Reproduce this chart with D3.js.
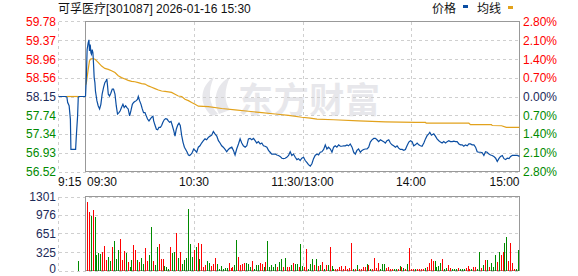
<!DOCTYPE html>
<html>
<head>
<meta charset="utf-8">
<script src="https://cdn.jsdelivr.net/npm/d3@7"></script>
<style>
  body { margin: 0; background: #fff; }
  svg { display: block; font-family: "Liberation Sans", Arial, "Noto Sans CJK SC", sans-serif; }
</style>
</head>
<body>
<div id="chart"></div>
<script>
// ---------- data ----------
const title = "可孚医疗[301087] 2026-01-16 15:30"
const prevClose = 58.15

const priceTicks = [59.78, 59.37, 58.96, 58.56, 58.15, 57.74, 57.34, 56.93, 56.52]
const pctLabels = ["2.80%", "2.10%", "1.40%", "0.70%", "0.00%", "0.70%", "1.40%", "2.10%", "2.80%"]
const volTicks = [1301, 976, 651, 325, 0]
const timeTicks = [0, 60, 120, 180, 240] // minutes after 09:30 (lunch folded)
const timeLabels = ["09:30", "10:30", "11:30/13:00", "14:00", "15:00"]

// call auction 9:15-9:30, [minute after 9:15, price]
const prePrice = [[0,58.15],[4.6,58.15],[5.1,58.02],[5.9,57.95],[6.6,57.66],[6.9,57.00],[9.5,57.00],[9.9,57.29],[10.6,57.72],[11,58.15],[15,58.15]]
const preAvg = [[4.6,58.15],[11,58.15]]
const preVolT = [11]
const preVol = [170]

// [minute after 9:30, price]
const amPrice = [[0,58.15],[0.5,58.60],[0.9,59.17],[1.5,59.32],[1.9,59.38],[2.2,59.14],[2.6,59.28],[3.0,59.10],[3.3,59.07],[3.7,59.17],
  [4.1,59.10],[4.4,58.89],[4.8,58.56],[5.2,58.45],[5.5,58.27],[6.3,58.06],[7.0,57.95],[7.8,57.88],[8.5,57.98],[9.2,58.20],
  [10.0,58.35],[10.7,58.45],[11.4,58.49],[11.8,58.53],[12.2,58.38],[12.6,58.20],[13.3,58.16],[14.0,58.22],[14.8,58.31],[15.5,58.31],
  [16.3,58.20],[17.0,57.95],[17.7,57.77],[18.5,57.80],[19.2,57.84],[19.9,57.91],[20.7,57.98],[21.4,57.91],[22.2,57.95],[22.9,57.91],
  [23.6,57.88],[24.4,57.73],[25.1,57.84],[25.9,57.98],[26.6,58.02],[27.3,58.04],[28.1,58.06],[28.8,58.09],[29.2,58.15],[29.9,58.06],
  [30.7,57.98],[31.4,57.88],[32.1,57.80],[32.9,57.80],[33.6,57.73],[34.3,57.66],[35.1,57.62],[35.8,57.66],[36.6,57.70],[37.3,57.72],
  [37.7,57.62],[38.4,57.53],[39.2,57.44],[39.9,57.43],[40.6,57.48],[41.4,57.48],[42.1,57.52],[42.8,57.59],[43.6,57.65],[44.3,57.67],
  [45.1,57.66],[45.8,57.62],[46.5,57.59],[47.3,57.61],[48.0,57.52],[48.8,57.41],[49.5,57.29],[50.2,57.44],[51.0,57.53],[51.7,57.57],
  [52.4,57.52],[53.2,57.30],[53.9,57.16],[54.7,57.05],[55.4,57.00],[56.1,56.95],[56.9,56.88],[57.6,56.87],[58.4,56.90],[59.1,56.94],
  [59.8,57.01],[60.6,56.98],[61.5,56.94],[62.4,57.05],[63.3,57.08],[64.2,57.14],[65.2,57.19],[66.1,57.23],[67.0,57.21],[67.9,57.26],
  [68.9,57.29],[69.8,57.31],[70.7,57.39],[71.6,57.34],[72.6,57.29],[73.5,57.19],[74.4,57.14],[75.3,57.08],[76.2,57.05],[77.2,57.00],
  [78.1,56.95],[79.0,57.00],[79.9,57.03],[80.9,57.05],[81.8,56.98],[82.7,56.88],[83.6,57.01],[84.6,57.12],[85.5,57.23],[86.4,57.14],
  [87.3,57.08],[88.3,57.05],[89.2,57.08],[90.1,57.23],[91.0,57.24],[91.9,57.21],[92.9,57.24],[93.8,57.19],[94.7,57.14],[95.6,57.17],
  [96.6,57.12],[97.5,57.14],[98.4,57.08],[99.3,57.07],[100.3,57.05],[101.2,56.98],[102.1,56.94],[103.0,56.90],[104.0,56.90],[104.9,56.90],
  [105.8,56.88],[106.7,56.87],[107.6,56.85],[108.6,56.81],[109.5,56.80],[110.4,56.81],[111.3,56.83],[112.3,56.87],[113.2,56.95],[114.1,56.87],
  [115.0,56.90],[116.0,56.83],[116.9,56.78],[117.8,56.80],[118.7,56.76],[119.6,56.81]]

const pmPrice = [[120.6,56.83],[121.5,56.76],[122.4,56.72],[123.3,56.67],[124.3,56.64],[125.2,56.69],[126.1,56.80],[127.0,56.87],[128.0,56.90],[128.9,56.88],
  [129.8,56.94],[130.7,56.95],[131.7,57.00],[132.6,57.10],[133.5,57.01],[134.4,57.05],[135.4,57.01],[136.3,56.94],[137.2,57.05],[138.1,57.08],
  [139.0,57.05],[140.0,57.10],[140.9,57.07],[141.8,57.07],[142.7,57.08],[143.7,57.08],[144.6,57.10],[145.5,57.08],[146.4,57.12],[147.4,57.05],
  [148.3,56.94],[149.2,56.90],[150.1,56.98],[151.0,57.01],[152.0,56.94],[152.9,56.98],[153.8,57.00],[154.7,57.01],[155.7,57.01],[156.6,57.05],
  [157.5,57.16],[158.4,57.21],[159.4,57.24],[160.3,57.24],[161.2,57.21],[162.1,57.17],[163.1,57.21],[164.0,57.19],[164.9,57.17],[165.8,57.14],
  [166.7,57.19],[167.7,57.21],[168.6,57.14],[169.5,57.10],[170.4,57.08],[171.4,57.05],[172.3,57.08],[173.2,57.03],[174.1,57.00],[175.1,57.00],
  [176.0,56.98],[176.9,57.00],[177.8,57.08],[178.8,57.16],[179.7,57.19],[180.6,57.17],[181.5,57.08],[182.4,57.10],[183.4,57.14],[184.3,57.10],
  [185.2,57.08],[186.1,57.07],[187.1,57.14],[188.0,57.23],[188.9,57.30],[189.8,57.34],[190.4,57.37],[191.3,57.31],[192.6,57.34],[193.5,57.29],
  [194.4,57.23],[195.4,57.19],[196.3,57.16],[197.2,57.14],[198.1,57.17],[199.1,57.14],[200.0,57.17],[200.9,57.19],[201.8,57.17],[202.8,57.17],
  [203.7,57.18],[204.6,57.17],[205.5,57.17],[206.5,57.12],[207.4,57.10],[208.3,57.10],[209.2,57.07],[210.1,57.10],[211.1,57.08],[212.0,57.12],
  [212.9,57.12],[213.8,57.10],[214.8,57.10],[215.7,57.05],[216.6,56.95],[217.5,56.94],[218.5,56.94],[219.4,56.93],[220.3,56.87],[221.2,56.95],
  [222.1,56.94],[223.1,56.90],[224.0,56.88],[224.9,56.87],[225.8,56.85],[226.8,56.81],[227.7,56.74],[228.6,56.80],[229.5,56.85],[230.5,56.87],
  [231.4,56.80],[232.3,56.78],[233.2,56.81],[234.2,56.80],[235.1,56.85],[236.0,56.87],[236.9,56.87],[237.8,56.87],[238.8,56.87],[240.0,56.85]]

const avgPrice = [[0,58.40],[0.5,58.45],[1.5,58.74],[2.2,58.92],[3.0,58.97],[4.4,58.97],[5.2,58.96],[7.0,58.89],[8.9,58.81],[10.7,58.76],
  [12.6,58.74],[14.4,58.71],[16.3,58.67],[18.1,58.60],[19.9,58.56],[21.8,58.53],[23.6,58.50],[25.5,58.48],[27.3,58.47],[29.2,58.45],
  [31.0,58.43],[32.9,58.42],[34.7,58.38],[36.6,58.35],[38.4,58.32],[40.3,58.29],[42.1,58.27],[44.0,58.26],[45.8,58.25],[47.6,58.24],
  [49.5,58.20],[51.3,58.16],[53.2,58.15],[55.0,58.09],[56.9,58.06],[58.7,58.02],[60.6,57.98],[62.4,57.94],[67.9,57.93],[75.3,57.89],
  [82.7,57.86],[90.1,57.83],[97.5,57.80],[104.9,57.77],[112.3,57.74],[119.6,57.70],[124.3,57.68],[128.0,57.66],[137.2,57.645],[151.0,57.62],
  [165.8,57.60],[182.4,57.59],[188.0,57.59],[188.4,57.57],[212.0,57.57],[212.9,57.54],[224.5,57.54],[224.9,57.52],[230.1,57.515],[232.7,57.48],[240,57.48]]

// volume per bar (lots), r = up, g = down
const volumes = [1202,1027,957,1062,939,268,315,292,327,432,
  181,233,163,414,513,204,362,554,181,338,
  309,152,53,187,449,362,187,152,222,117,
  397,175,268,764,169,99,420,467,204,204,
  82,58,23,414,309,333,659,222,327,111,
  181,222,1073,473,233,362,414,478,204,467,
  53,105,163,134,82,123,222,123,35,82,
  29,41,47,134,47,64,99,537,239,99,
  123,134,134,117,70,163,29,99,99,134,
  117,70,152,513,53,99,58,117,64,152,
  210,58,222,58,64,105,134,
  117,117,70,467,82,70,373,23,117,204,
  99,204,82,99,152,23,105,99,414,82,
  23,23,23,58,82,23,82,23,47,484,
  23,23,99,23,23,70,64,117,99,23,
  23,222,47,134,23,117,117,47,64,23,
  23,23,23,23,82,58,47,23,117,397,
  23,23,23,23,23,23,23,47,58,134,
  204,169,169,58,82,134,204,23,47,99,
  47,23,23,23,47,23,23,23,47,82,
  23,23,58,58,23,327,47,99,187,187,
  64,134,64,274,152,327,274,327,484,589,
  169,484,134,23,23,362]
const volDir = ("rrgrggggrr" + "rggrgggrrr" + "grggrrgrgg" + "rrggrggrrr" + "gggrggrgrg" +
  "gggggrgrgr" + "rrggrrrggg" + "gggrrrggrr" + "rrgggrgggr" + "rgrgggggrg" + "grgrrgr" +
  "ggrggrrggg" + "rgrgrgrgrg" + "grrrrrrrrr" + "grgrrrrgrg" + "rrrrgggrrr" + "rggrgrgrgr" +
  "rrgrrrrgrr" + "rrggggrggr" + "rgggrgggrr" + "rgrrggrgrg" + "rgggrgrrgg" + "rrrrgg").split("")

// ---------- layout ----------
const W = 578, H = 276
const preL = 58.5, L = 85.5, R = 519.5
const T = 21.5, B = 171.5
const VT = 196.5, VB = 270.5
const red = "#f00", green = "#008a00", neutral = "#1c2a58"
const gridCol = "#cfcfcf", frameCol = "#999"

const svg = d3.select("#chart").append("svg").attr("width", W).attr("height", H)

const x = d3.scaleLinear().domain([0, 240]).range([L, R])
const xPre = d3.scaleLinear().domain([0, 15]).range([preL, L])
const y = d3.scaleLinear().domain([prevClose * (1 - 0.028), prevClose * (1 + 0.028)]).range([B, T])
const yVol = d3.scaleLinear().domain([0, volTicks[0]]).range([VB, VT])

// watermark
const wm = svg.append("g").attr("fill", "#e7e7eb")
wm.append("path").attr("d", "M212,116 C198,104 200,86 214,77 C208,90 208,104 218,114 Z")
wm.append("path").attr("d", "M219,114 C212,100 216,84 230,77 C224,90 224,102 230,110 Z")
wm.append("text").attr("x", 238).attr("y", 113).attr("font-size", 35).attr("font-weight", "bold")
  .attr("font-family", "Noto Sans CJK SC").attr("textLength", 142).text("东方财富")

// grids
const grid = svg.append("g").attr("stroke", gridCol).attr("stroke-dasharray", "3,3")
  .attr("shape-rendering", "crispEdges")
grid.selectAll(".hp").data(priceTicks).join("line")
  .attr("x1", preL).attr("x2", R).attr("y1", d => Math.round(y(d)) + 0.5).attr("y2", d => Math.round(y(d)) + 0.5)
grid.selectAll(".hv").data(volTicks).join("line")
  .attr("x1", preL).attr("x2", R).attr("y1", d => Math.round(yVol(d)) + 0.5).attr("y2", d => Math.round(yVol(d)) + 0.5)
const vTicks = timeTicks.slice(1, -1)
grid.selectAll(".vp").data(vTicks).join("line")
  .attr("x1", d => Math.round(x(d)) + 0.5).attr("x2", d => Math.round(x(d)) + 0.5).attr("y1", T).attr("y2", B)
grid.selectAll(".vv").data(vTicks).join("line")
  .attr("x1", d => Math.round(x(d)) + 0.5).attr("x2", d => Math.round(x(d)) + 0.5).attr("y1", VT).attr("y2", VB)
grid.append("line").attr("x1", preL).attr("x2", preL).attr("y1", T).attr("y2", B)
grid.append("line").attr("x1", preL).attr("x2", preL).attr("y1", VT).attr("y2", VB)

// frames
svg.append("rect").attr("x", L).attr("y", T).attr("width", R - L).attr("height", B - T)
  .attr("fill", "none").attr("stroke", frameCol).attr("shape-rendering", "crispEdges")
svg.append("rect").attr("x", L).attr("y", VT).attr("width", R - L).attr("height", VB - VT)
  .attr("fill", "none").attr("stroke", frameCol).attr("shape-rendering", "crispEdges")

// price axis labels
const labCol = i => (i < 4 ? red : i === 4 ? neutral : green)
svg.append("g").attr("font-size", 12).attr("text-anchor", "end")
  .selectAll("text").data(priceTicks).join("text")
  .attr("x", 56).attr("y", d => y(d) + 4.5)
  .attr("fill", (d, i) => labCol(i)).text(d => d.toFixed(2))
svg.append("g").attr("font-size", 12)
  .selectAll("text").data(pctLabels).join("text")
  .attr("x", 523).attr("y", (d, i) => y(priceTicks[i]) + 4.5)
  .attr("fill", (d, i) => labCol(i)).text(d => d)

// volume labels
svg.append("g").attr("font-size", 12).attr("text-anchor", "end").attr("fill", neutral)
  .selectAll("text").data(volTicks).join("text")
  .attr("x", 56).attr("y", d => Math.min(yVol(d) + 4.5, 272.5)).text(d => d)

// time labels
svg.append("text").attr("x", preL - 0.5).attr("y", 185.5).attr("font-size", 12).attr("fill", "#111").text("9:15")
svg.append("g").attr("font-size", 12).attr("fill", "#111")
  .selectAll("text").data(timeLabels).join("text")
  .attr("x", (d, i) => x(timeTicks[i]) + (i === 0 ? 1.5 : 0))
  .attr("y", 185.5)
  .attr("text-anchor", (d, i) => (i === 0 ? "start" : i === timeLabels.length - 1 ? "end" : "middle"))
  .text(d => d)

// title + legend
svg.append("text").attr("x", 58).attr("y", 13).attr("font-size", 12).attr("fill", "#111").text(title)
svg.append("text").attr("x", 432).attr("y", 13).attr("font-size", 12).attr("fill", "#111").text("价格")
svg.append("rect").attr("x", 463).attr("y", 5).attr("width", 5).attr("height", 3).attr("fill", "#0b4ea2")
svg.append("text").attr("x", 477).attr("y", 13).attr("font-size", 12).attr("fill", "#111").text("均线")
svg.append("rect").attr("x", 508).attr("y", 6).attr("width", 5).attr("height", 3).attr("fill", "#e2a21c")

// volume bars
const xb = d3.scalePoint().domain(d3.range(volumes.length)).range([x(0.7), x(239.2)])
svg.append("g").attr("shape-rendering", "crispEdges")
  .selectAll("rect").data(volumes).join("rect")
  .attr("x", (d, i) => Math.round(xb(i)))
  .attr("width", 1)
  .attr("y", d => Math.round(yVol(d)))
  .attr("height", d => VB - Math.round(yVol(d)))
  .attr("fill", (d, i) => (volDir[i] === "r" ? red : green))
svg.append("g").attr("shape-rendering", "crispEdges")
  .selectAll("rect").data(preVol).join("rect")
  .attr("x", (d, i) => Math.round(xPre(preVolT[i])))
  .attr("width", 1)
  .attr("y", d => Math.round(yVol(d)))
  .attr("height", d => VB - Math.round(yVol(d)))
  .attr("fill", green)

// lines
const line = d3.line().x(d => x(d[0])).y(d => y(d[1]))
const preLine = d3.line().x(d => xPre(d[0])).y(d => y(d[1]))

svg.append("path").attr("d", preLine(prePrice)).attr("fill", "none").attr("stroke", "#0b4ea2").attr("stroke-width", 1.2)
svg.append("path").attr("d", preLine(preAvg)).attr("fill", "none").attr("stroke", "#e2a21c").attr("stroke-width", 1.2)
svg.append("path").attr("d", line(avgPrice)).attr("fill", "none").attr("stroke", "#e2a21c").attr("stroke-width", 1.2)
svg.append("path").attr("d", line(amPrice.concat(pmPrice))).attr("fill", "none").attr("stroke", "#0b4ea2").attr("stroke-width", 1.2)
</script>
</body>
</html>
